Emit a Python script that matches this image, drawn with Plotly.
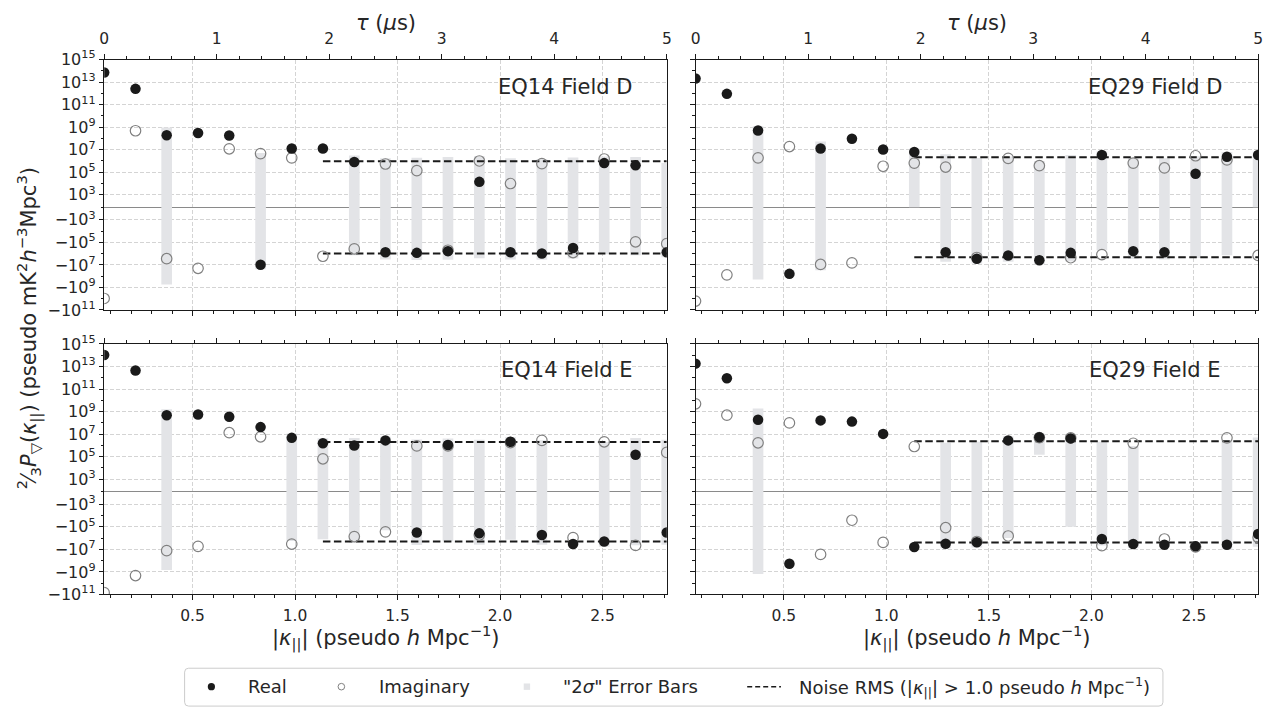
import numpy as np
import plotly.graph_objects as go

# ---------------- data ----------------
kpar = [0.069, 0.222, 0.374, 0.527, 0.679, 0.832, 0.984, 1.136, 1.289, 1.441,
        1.594, 1.746, 1.899, 2.051, 2.204, 2.356, 2.508, 2.661, 2.813]

eq14d_real = [7e13, 2.5e12, 1.9e8, 3e8, 1.8e8, -9.8e6, 1.26e7, 1.26e7, 8e5, -7.4e5,
              -8.5e5, -6e5, 1.4e4, -7.4e5, -9.7e5, -3.2e5, 6.5e5, 4.1e5, -7.4e5]
eq14d_imag = [-9.5e9, 4.8e8, -2.8e6, -2e7, 1.2e7, 4.5e6, 1.9e6, -1.7e6, -3.8e5, 5.4e5,
              1.4e5, -5e5, 1e6, 1e4, 5.8e5, -8e5, 1.5e6, -8.9e4, -1.3e5]
eq14d_err = [5e12, 2e11, 7.4e8, 5e7, 3e7, 1.5e7, 3e6, 2e6, 2.2e6, 2.5e6,
             2.8e6, 2.9e6, 2.6e6, 2.5e6, 2.5e6, 2.4e6, 1.8e6, 1.8e6, 1.4e6]
eq14d_rms = 9.6e5

eq29d_real = [2.1e13, 9e11, 5.1e8, -6.2e7, 1.26e7, 9.3e7, 1.05e7, 6.2e6, -7.4e5, -2.8e6,
              -1.45e6, -3.9e6, -8.5e5, 3.4e6, -6e5, -7.4e5, 7.4e4, 2.4e6, 3.4e6]
eq29d_imag = [-1.6e10, -7.6e7, 1.9e6, 1.9e7, -9.1e6, -6.6e6, 3.4e5, 6.5e5, 2.9e5, -2.2e6,
              1.7e6, 3.8e5, -2.3e6, -1.2e6, 6.5e5, 2.4e5, 2.9e6, 1.26e6, -1.45e6]
eq29d_err = [2e12, 9e10, 7.1e8, 3e7, 4.2e7, 1e7, 3e6, 6.2e6, 4.6e6, 4.6e6,
             3.9e6, 4.9e6, 4.2e6, 3.9e6, 2.4e6, 2.5e6, 2.5e6, 3.8e6, 3.4e6]
eq29d_rms = 2.1e6

eq14e_real = [1.05e14, 4.5e12, 4.8e8, 5.5e8, 3.5e8, 4.2e7, 4.7e6, 1.55e6, 9.6e5, 2.8e6,
              -3.2e5, 1.1e6, -3.8e5, 2.1e6, -5.4e5, -3.4e6, -2e6, 1.5e5, -3.2e5]
eq14e_imag = [-6.9e10, -2.1e9, -1.3e7, -5.4e6, 1.35e7, 5.8e6, -3.4e6, 6.5e4, -7.4e5, -2.8e5,
              9.1e5, 9e5, -5.4e5, 1.8e6, 2.8e6, -9.1e5, 2.1e6, -4.5e6, 2.4e5]
eq14e_err = [1e13, 4e11, 1.15e9, 5e7, 3e7, 5e6, 6.5e6, 2.8e6, 3.5e6, 3e6,
             3.7e6, 3e6, 3.5e6, 3.5e6, 3.4e6, 1.5e6, 4e6, 4.5e6, 3.5e6]
eq14e_rms = 2.0e6

eq29e_real = [1.8e13, 9.1e11, 1.9e8, -1.9e8, 1.66e8, 1.3e8, 1.05e7, -6.2e6, -3.2e6, -2.3e6,
              2.8e6, 5.4e6, 4.2e6, -1.2e6, -3.4e6, -3.9e6, -5.4e6, -3.9e6, -4.4e5]
eq29e_imag = [4.9e9, 4.8e8, 1.7e6, 1e8, -2.8e7, -2.6e4, -2.4e6, 8e5, -1.2e5, -2e6,
              -6.5e5, 5e6, 4.6e6, -4.7e6, 1.55e6, -1.2e6, -6e6, 4.7e6, -9e5]
eq29e_err = [1e12, 9e10, 1.7e9, 3e7, 2e7, 2e7, 2e6, 1.5e6, 4.9e6, 4.4e6,
             3.8e6, 5.25e6, 4.3e6, 3.3e6, 4.3e6, 2e6, 2.5e6, 7e6, 5.4e6]
eq29e_rms = 2.4e6

panel_titles = ["EQ14 Field D", "EQ29 Field D", "EQ14 Field E", "EQ29 Field E"]
kpar_ticks = [0.5, 1.0, 1.5, 2.0, 2.5]
tau_ticks = [0, 1, 2, 3, 4, 5]
noise_kmin = 1.0
y_major_pos = [3, 5, 7, 9, 11, 13, 15]
y_major_neg = [3, 5, 7, 9, 11]

# ---------------- helpers ----------------
LT = 1e3
LS = 1.0 / (1.0 - 0.1)


def symlog(v):
    v = np.asarray(v, dtype=float)
    a = np.abs(v)
    return np.where(a <= LT, v / LT * LS,
                    np.sign(v) * (LS + np.log10(np.maximum(a, LT) / LT)))


W, H = 1288, 719
px = lambda x: x / W
py = lambda y: 1 - y / H

FONT = "DejaVu Sans"
TXT = "#262626"
LINE = "#1a1a1a"
GRID = "#d4d4d4"
TICK_FS = 15.5
LABEL_FS = 21
LEG_FS = 18

kmin, kmax = 0.0694, 2.8134
ymin, ymax = float(symlog(-1e11)), float(symlog(1e15))

ytickvals = [float(symlog(10.0 ** k)) for k in y_major_pos] + [float(symlog(-10.0 ** k)) for k in y_major_neg]
yticktext = [f"10<sup>{k}</sup>" for k in y_major_pos] + [f"\u221210<sup>{k}</sup>" for k in y_major_neg]
yminor = [float(symlog(10.0 ** k)) for k in range(4, 15, 2)] + \
         [float(symlog(-10.0 ** k)) for k in range(4, 11, 2)] + [0.0]

kminor = [round(0.1 * i, 1) for i in range(1, 29) if round(0.1 * i, 1) not in kpar_ticks]
tminor = [round(0.2 * i, 1) for i in range(1, 25) if abs(0.2 * i - round(0.2 * i)) > 1e-6]

panels = [
    (eq14d_real, eq14d_imag, eq14d_err, eq14d_rms),
    (eq29d_real, eq29d_imag, eq29d_err, eq29d_rms),
    (eq14e_real, eq14e_imag, eq14e_err, eq14e_rms),
    (eq29e_real, eq29e_imag, eq29e_err, eq29e_rms),
]

xdoms = [[px(100), px(667)], [px(696), px(1263)]]
ydoms = [[py(308), py(50)], [py(601), py(343)]]

fig = go.Figure()
layout = {}

kpar_arr = np.array(kpar)
noise_x = [float(kpar_arr[kpar_arr > noise_kmin][0]), float(kpar_arr[-1])]

for i, (re, im, er, rms) in enumerate(panels):
    row, col = i // 2, i % 2
    xn = "x" if i == 0 else f"x{i + 1}"
    yn = "y" if i == 0 else f"y{i + 1}"
    tn = f"x{i + 5}"
    re_a = np.array(re)
    er_a = np.array(er)
    lo = symlog(re_a - er_a)
    hi = symlog(re_a + er_a)
    # error bars
    fig.add_trace(go.Bar(x=kpar, y=hi - lo, base=lo, width=0.052,
                         marker=dict(color="#e3e4e7", line=dict(width=0)),
                         xaxis=xn, yaxis=yn, showlegend=False, hoverinfo="skip"))
    # noise rms lines
    for s in (1, -1):
        fig.add_trace(go.Scatter(x=noise_x, y=[float(symlog(s * rms))] * 2, mode="lines",
                                 line=dict(color=LINE, width=2, dash="7.5px,3.5px"),
                                 xaxis=xn, yaxis=yn, showlegend=False, hoverinfo="skip"))
    # imaginary
    fig.add_trace(go.Scatter(x=kpar, y=symlog(im), mode="markers",
                             marker=dict(size=10.5, color="rgba(0,0,0,0)",
                                         line=dict(color="#808080", width=1.2)),
                             xaxis=xn, yaxis=yn, showlegend=False))
    # real
    fig.add_trace(go.Scatter(x=kpar, y=symlog(re), mode="markers",
                             marker=dict(size=10.5, color="#1a1a1a", line=dict(width=0)),
                             xaxis=xn, yaxis=yn, showlegend=False))
    # dummy trace for tau axis
    fig.add_trace(go.Scatter(x=[0, 5], y=[0, 0], mode="markers", marker=dict(opacity=0),
                             xaxis=tn, yaxis=yn, showlegend=False, hoverinfo="skip"))

    xkey = "xaxis" if i == 0 else f"xaxis{i + 1}"
    ykey = "yaxis" if i == 0 else f"yaxis{i + 1}"
    tkey = f"xaxis{i + 5}"

    layout[xkey] = dict(domain=xdoms[col], anchor=yn, range=[kmin, kmax],
                        tickmode="array", tickvals=kpar_ticks,
                        ticktext=[f"{t:.1f}" for t in kpar_ticks],
                        showticklabels=(row == 1), ticks="outside", ticklen=4.5, tickwidth=1,
                        tickcolor=LINE, showline=True, linecolor=LINE, linewidth=1, mirror=True,
                        showgrid=True, gridcolor=GRID, griddash="4px,2px", gridwidth=1,
                        zeroline=False, ticklabelstandoff=2,
                        tickfont=dict(family=FONT, size=TICK_FS, color=TXT),
                        minor=dict(tickmode="array", tickvals=kminor, ticks="outside",
                                   ticklen=2.5, tickcolor=LINE, showgrid=False))
    layout[tkey] = dict(overlaying=xn, anchor=yn, side="top", range=[0, 5],
                        tickmode="array", tickvals=tau_ticks, ticktext=[str(t) for t in tau_ticks],
                        showticklabels=(row == 0), ticks="outside", ticklen=4.5, tickwidth=1,
                        tickcolor=LINE, showline=True, linecolor=LINE, linewidth=1,
                        showgrid=False, zeroline=False, ticklabelstandoff=4,
                        tickfont=dict(family=FONT, size=TICK_FS, color=TXT),
                        minor=dict(tickmode="array", tickvals=tminor, ticks="outside",
                                   ticklen=2.5, tickcolor=LINE, showgrid=False))
    layout[ykey] = dict(domain=ydoms[row], anchor=xn, range=[ymin, ymax],
                        tickmode="array", tickvals=ytickvals, ticktext=yticktext,
                        showticklabels=(col == 0), ticks="outside", ticklen=4.5, tickwidth=1,
                        tickcolor=LINE, showline=True, linecolor=LINE, linewidth=1, mirror=True,
                        showgrid=True, gridcolor=GRID, griddash="4px,2px", gridwidth=1,
                        zeroline=True, zerolinecolor="#8a8a8a", zerolinewidth=1,
                        tickfont=dict(family=FONT, size=16, color=TXT),
                        minor=dict(tickmode="array", tickvals=yminor, ticks="outside",
                                   ticklen=2.5, tickcolor=LINE, showgrid=False))

annotations = []
# panel labels
label_pos = [(635, 78), (1230, 78), (635, 370), (1228, 370)]
for t, (lx, ly) in zip(panel_titles, label_pos):
    annotations.append(dict(text=t, x=px(lx), y=py(ly), xref="paper", yref="paper",
                            xanchor="right", yanchor="middle", showarrow=False,
                            font=dict(family=FONT, size=LABEL_FS, color=TXT)))
# axis titles
for cx in (383.5, 979.5):
    annotations.append(dict(text="<i>τ</i> (<i>μ</i>s)", x=px(cx), y=py(12), xref="paper",
                            yref="paper", xanchor="center", yanchor="middle", showarrow=False,
                            font=dict(family=FONT, size=LABEL_FS, color=TXT)))
    annotations.append(dict(text="|<i>κ</i><sub>||</sub>| (pseudo <i>h</i> Mpc<sup>−1</sup>)",
                            x=px(cx), y=py(645), xref="paper", yref="paper", xanchor="center",
                            yanchor="middle", showarrow=False,
                            font=dict(family=FONT, size=LABEL_FS, color=TXT)))
annotations.append(dict(
    text="<sup>2</sup>⁄<sub>3</sub><i>P</i><sub>▽</sub>(<i>κ</i><sub>||</sub>) (pseudo mK<sup>2</sup><i>h</i><sup>−3</sup>Mpc<sup>3</sup>)",
    x=px(24), y=py(327), xref="paper", yref="paper", xanchor="center", yanchor="middle",
    textangle=-90, showarrow=False, font=dict(family=FONT, size=LABEL_FS, color=TXT)))

# ---------------- custom legend ----------------
shapes = []
lx0, lx1, ly0, ly1, r = 181, 1167, 677, 716, 4
path = (f"M {px(lx0 + r)},{py(ly0)} L {px(lx1 - r)},{py(ly0)} Q {px(lx1)},{py(ly0)} {px(lx1)},{py(ly0 + r)} "
        f"L {px(lx1)},{py(ly1 - r)} Q {px(lx1)},{py(ly1)} {px(lx1 - r)},{py(ly1)} "
        f"L {px(lx0 + r)},{py(ly1)} Q {px(lx0)},{py(ly1)} {px(lx0)},{py(ly1 - r)} "
        f"L {px(lx0)},{py(ly0 + r)} Q {px(lx0)},{py(ly0)} {px(lx0 + r)},{py(ly0)} Z")
shapes.append(dict(type="path", path=path, xref="paper", yref="paper",
                   line=dict(color="#cccccc", width=1), fillcolor="white", layer="below"))
LY = 696
shapes.append(dict(type="circle", xref="paper", yref="paper", xsizemode="pixel", ysizemode="pixel",
                   xanchor=px(208), yanchor=py(LY), x0=-3.6, x1=3.6, y0=-3.6, y1=3.6,
                   fillcolor="#1a1a1a", line=dict(width=0)))
shapes.append(dict(type="circle", xref="paper", yref="paper", xsizemode="pixel", ysizemode="pixel",
                   xanchor=px(339), yanchor=py(LY), x0=-3.3, x1=3.3, y0=-3.3, y1=3.3,
                   fillcolor="rgba(0,0,0,0)", line=dict(width=1, color="#808080")))
shapes.append(dict(type="rect", xref="paper", yref="paper", xsizemode="pixel", ysizemode="pixel",
                   xanchor=px(526), yanchor=py(LY), x0=-3.2, x1=3.2, y0=-3.2, y1=3.2,
                   fillcolor="#e3e4e7", line=dict(width=0)))
shapes.append(dict(type="line", xref="paper", yref="paper", x0=px(748), x1=px(782),
                   y0=py(LY), y1=py(LY), line=dict(color=LINE, width=1.5, dash="5px,3px")))
leg_items = [(243, "Real"), (375, "Imaginary"), (560, "\"2<i>σ</i>\" Error Bars"),
             (798, "Noise RMS (|<i>κ</i><sub>||</sub>| > 1.0 pseudo <i>h</i> Mpc<sup>−1</sup>)")]
for lxp, t in leg_items:
    annotations.append(dict(text=t, x=px(lxp), y=py(LY), xref="paper", yref="paper",
                            xanchor="left", yanchor="middle", showarrow=False,
                            font=dict(family=FONT, size=LEG_FS, color=TXT)))

fig.update_layout(width=W, height=H, margin=dict(l=0, r=0, t=0, b=0),
                  paper_bgcolor="white", plot_bgcolor="white", barmode="overlay",
                  showlegend=False, annotations=annotations, shapes=shapes,
                  font=dict(family=FONT, color=TXT), **layout)

fig.write_html("out.html")
